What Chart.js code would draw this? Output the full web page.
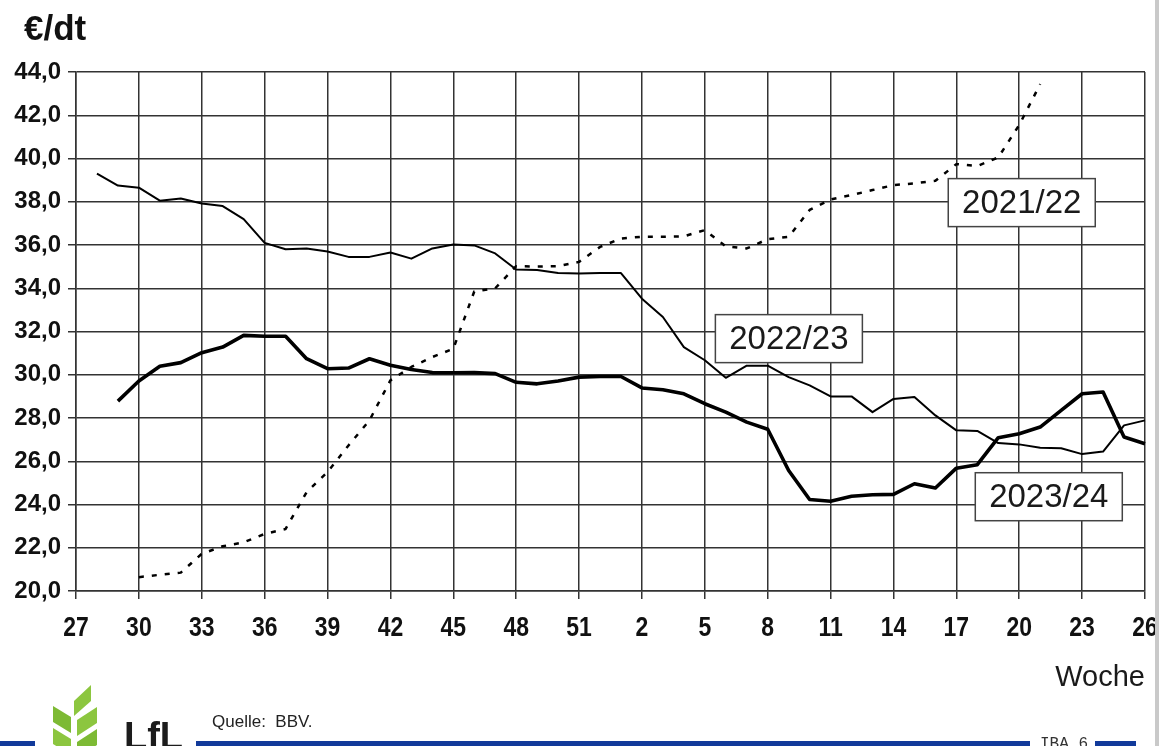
<!DOCTYPE html>
<html>
<head>
<meta charset="utf-8">
<script src="https://cdn.jsdelivr.net/npm/chart.js@4.4.1/dist/chart.umd.min.js"></script>
<style>
  html, body { margin: 0; padding: 0; background: #ffffff; overflow: hidden; }
  canvas { display: block; }
</style>
</head>
<body>
<canvas id="chart" width="1165" height="746"></canvas>
<script>
// Wirtschaftsjahr: KW 27 bis KW 26 des Folgejahres
const weeks = [27, 28, 29, 30, 31, 32, 33, 34, 35, 36, 37, 38, 39, 40, 41, 42, 43, 44, 45, 46,
  47, 48, 49, 50, 51, 52, 1, 2, 3, 4, 5, 6, 7, 8, 9, 10, 11, 12, 13, 14, 15, 16, 17, 18, 19, 20,
  21, 22, 23, 24, 25, 26];

// Preise in €/dt
const price2021 = [null, null, null, 20.64, 20.75, 20.85, 21.72, 22.07, 22.25, 22.64,
  22.87, 24.57, 25.50, 26.73, 27.89, 29.74, 30.36, 30.82, 31.20, 33.85,
  34.00, 35.02, 35.00, 35.02, 35.22, 35.91, 36.30, 36.38, 36.38, 36.40,
  36.69, 35.94, 35.84, 36.27, 36.38, 37.62, 38.11, 38.31, 38.54, 38.77,
  38.85, 38.97, 39.74, 39.65, 40.05, 41.55, 43.44, null, null, null, null, null];

const price2022 = [null, 39.30, 38.75, 38.65, 38.05, 38.15, 37.92, 37.80, 37.20, 36.10,
  35.80, 35.84, 35.70, 35.45, 35.45, 35.65, 35.37, 35.84, 36.02, 35.98,
  35.61, 34.87, 34.84, 34.70, 34.68, 34.70, 34.70, 33.52, 32.67, 31.28,
  30.67, 29.86, 30.42, 30.42, 29.89, 29.51, 29.00, 29.00, 28.27, 28.88,
  28.97, 28.12, 27.43, 27.40, 26.84, 26.78, 26.62, 26.60, 26.33, 26.45, 27.66, 27.89];

const price2023 = [null, null, 28.78, 29.71, 30.39, 30.56, 31.02, 31.28, 31.82, 31.78,
  31.78, 30.74, 30.28, 30.31, 30.74, 30.44, 30.24, 30.10, 30.09, 30.10,
  30.05, 29.65, 29.58, 29.71, 29.89, 29.92, 29.92, 29.39, 29.31, 29.12,
  28.66, 28.27, 27.81, 27.48, 25.57, 24.23, 24.15, 24.38, 24.45, 24.47,
  24.96, 24.76, 25.68, 25.84, 27.09, 27.27, 27.58, 28.35, 29.12, 29.20, 27.12, 26.81];

const seriesNames = ['2021/22', '2022/23', '2023/24'];

// Beschriftungsfelder der Jahre (Mitte in Achsenwerten: Wochen-Index, €/dt)
const seriesTags = [
  { text: '2021/22', at: 45.12, value: 37.96 },
  { text: '2022/23', at: 34.01, value: 31.67 },
  { text: '2023/24', at: 46.41, value: 24.36 }
];

const yMin = 20, yMax = 44, yStep = 2;
const weekLabelEvery = 3;
const SANS = '"Liberation Sans", Arial, Helvetica, sans-serif';
const GRID = '#333333';

// LfL-Logo: grüne Ähre
const leafShapes = [
  { fill: '#8cc63f', pts: [[74, 701], [91, 685], [91, 701], [74, 716]] },
  { fill: '#7dba34', pts: [[53, 706], [71, 717], [71, 733], [53, 722]] },
  { fill: '#8cc63f', pts: [[77, 720], [97, 707], [97, 723], [77, 736]] },
  { fill: '#8cc63f', pts: [[53, 728], [71, 739], [71, 755], [53, 744]] },
  { fill: '#7dba34', pts: [[77, 742], [97, 729], [97, 745], [77, 758]] }
];

const decorations = {
  id: 'decorations',
  afterDatasetsDraw(chart) {
    const { ctx, scales } = chart;
    ctx.save();
    // Wochen-Beschriftung (schmale, fette Schrift)
    ctx.fillStyle = '#111111';
    ctx.font = 'bold 28px ' + SANS;
    ctx.textAlign = 'center';
    ctx.textBaseline = 'middle';
    weeks.forEach((w, i) => {
      if (i % weekLabelEvery !== 0) return;
      const x = scales.x.getPixelForValue(i);
      ctx.save();
      ctx.translate(x, 628);
      ctx.scale(0.82, 1);
      ctx.fillText(String(w), 0, 0);
      ctx.restore();
    });

    seriesTags.forEach(tag => {
      const cx = scales.x.getPixelForValue(tag.at);
      const cy = scales.y.getPixelForValue(tag.value);
      const w = 147, h = 48;
      ctx.fillStyle = '#ffffff';
      ctx.fillRect(cx - w / 2, cy - h / 2, w, h);
      ctx.strokeStyle = '#444444';
      ctx.lineWidth = 1.5;
      ctx.strokeRect(cx - w / 2, cy - h / 2, w, h);
      ctx.fillStyle = '#1a1a1a';
      ctx.font = '33px ' + SANS;
      ctx.textAlign = 'center';
      ctx.textBaseline = 'middle';
      ctx.fillText(tag.text, cx, cy + 1);
    });
    ctx.restore();
  },
  afterDraw(chart) {
    const { ctx } = chart;
    ctx.save();
    // Einheit
    ctx.fillStyle = '#111111';
    ctx.font = 'bold 35px ' + SANS;
    ctx.textAlign = 'left';
    ctx.textBaseline = 'alphabetic';
    ctx.fillText('€/dt', 24, 40);
    // Achsentitel
    ctx.font = '29px ' + SANS;
    ctx.textAlign = 'right';
    ctx.fillStyle = '#1a1a1a';
    ctx.fillText('Woche', 1145, 686);

    // Fußzeile
    ctx.fillStyle = '#c9c9c9';
    ctx.fillRect(1155, 0, 4, 746);
    ctx.fillStyle = '#123a9a';
    ctx.fillRect(0, 741, 35, 5);
    ctx.fillRect(196, 741, 834, 5);
    ctx.fillRect(1095, 741, 41, 5);
    leafShapes.forEach(s => {
      ctx.beginPath();
      s.pts.forEach((p, i) => (i ? ctx.lineTo(p[0], p[1]) : ctx.moveTo(p[0], p[1])));
      ctx.closePath();
      ctx.fillStyle = s.fill;
      ctx.fill();
    });
    ctx.fillStyle = '#1c1c1c';
    ctx.font = 'bold 38px ' + SANS;
    ctx.textAlign = 'left';
    ctx.fillText('LfL', 124, 749);
    ctx.fillStyle = '#222222';
    ctx.font = '17px ' + SANS;
    ctx.fillText('Quelle:  BBV.', 212, 727);
    ctx.fillStyle = '#333333';
    ctx.font = '16px "Liberation Mono", "DejaVu Sans Mono", monospace';
    ctx.fillText('IBA 6', 1040, 748);
    ctx.restore();
  }
};

new Chart(document.getElementById('chart'), {
  type: 'line',
  data: {
    labels: weeks,
    datasets: [
      { label: seriesNames[0], data: price2021, borderColor: '#000000', borderWidth: 2.5,
        borderDash: [5, 8], borderCapStyle: 'butt' },
      { label: seriesNames[1], data: price2022, borderColor: '#000000', borderWidth: 2 },
      { label: seriesNames[2], data: price2023, borderColor: '#000000', borderWidth: 3.6 }
    ]
  },
  options: {
    responsive: false,
    devicePixelRatio: 1,
    animation: false,
    layout: { padding: { top: 72, right: 20, left: 0, bottom: 0 } },
    elements: {
      point: { radius: 0, hoverRadius: 0 },
      line: { tension: 0, fill: false, borderJoinStyle: 'round' }
    },
    plugins: {
      legend: { display: false },
      tooltip: { enabled: false },
      title: { display: false }
    },
    scales: {
      x: {
        type: 'category',
        offset: false,
        afterFit(scale) { scale.height = 155; },
        grid: {
          color: c => (c.index % weekLabelEvery === 0 ? GRID : 'rgba(0,0,0,0)'),
          lineWidth: 1.5,
          drawTicks: true,
          tickLength: 8,
          tickColor: c => (c.index % weekLabelEvery === 0 ? GRID : 'rgba(0,0,0,0)')
        },
        border: { display: true, color: GRID, width: 1.5 },
        ticks: { display: false, autoSkip: false, maxRotation: 0 }
      },
      y: {
        min: yMin,
        max: yMax,
        afterFit(scale) { scale.width = 76; },
        grid: { color: GRID, lineWidth: 1.5, drawTicks: true, tickLength: 8, tickColor: GRID },
        border: { display: true, color: GRID, width: 1.5 },
        ticks: {
          stepSize: yStep,
          padding: 7,
          color: '#111111',
          font: { family: SANS, size: 24, weight: 'bold' },
          callback: v => v.toFixed(1).replace('.', ',')
        }
      }
    }
  },
  plugins: [decorations]
});
</script>
</body>
</html>
